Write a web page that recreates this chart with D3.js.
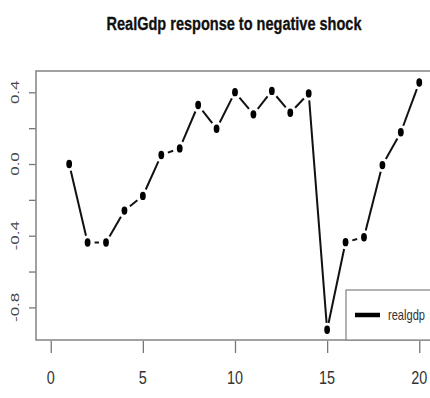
<!DOCTYPE html>
<html>
<head>
<meta charset="utf-8">
<script src="https://cdn.jsdelivr.net/npm/d3@7"></script>
<style>
  html, body { margin: 0; padding: 0; background: #fff; }
  svg { display: block; }
</style>
</head>
<body>
<svg id="chart" width="430" height="398"></svg>
<script>
// Impulse response of real GDP to a negative shock, horizons 1..20
const horizons = [1, 2, 3, 4, 5, 6, 7, 8, 9, 10, 11, 12, 13, 14, 15, 16, 17, 18, 19, 20];
const realgdp = [0.00, -0.438, -0.438, -0.26, -0.178, 0.05, 0.087, 0.329, 0.197, 0.401,
                 0.277, 0.408, 0.286, 0.394, -0.925, -0.436, -0.409, -0.006, 0.177, 0.455];
const xTicks = [0, 5, 10, 15, 20];
const yTicks = [0.4, 0.2, 0.0, -0.2, -0.4, -0.6, -0.8];
const yLabels = [0.4, 0.0, -0.4, -0.8];
const seriesName = "realgdp";
const title = "RealGdp response to negative shock";

const svg = d3.select("#chart");
const box = { left: 36, right: 434, top: 71, bottom: 340 };

const x = d3.scaleLinear().domain([-0.8, 20.8]).range([box.left, box.right]);
const y = d3.scaleLinear().domain([-0.982, 0.519]).range([box.bottom, box.top]);

const narrow = "'Liberation Sans Narrow', 'Arial Narrow', 'Liberation Sans', sans-serif";

// title
svg.append("text")
  .attr("x", 234).attr("y", 30)
  .attr("text-anchor", "middle")
  .attr("font-family", narrow)
  .attr("font-weight", "bold")
  .attr("font-size", 17.5)
  .attr("textLength", 255)
  .attr("lengthAdjust", "spacingAndGlyphs")
  .attr("fill", "#111")
  .attr("stroke", "#111").attr("stroke-width", 0.3)
  .text(title);

// x axis
const xAxis = svg.append("g")
  .attr("transform", `translate(0,${box.bottom + 1})`)
  .call(d3.axisBottom(x).tickValues(xTicks).tickSize(12).tickFormat(""));
xAxis.select(".domain").remove();
xAxis.selectAll(".tick line").attr("stroke", "#777").attr("stroke-width", 1.3);

svg.append("g").selectAll("text")
  .data(xTicks).join("text")
  .attr("transform", d => `translate(${x(d)},384) scale(0.8,1)`)
  .attr("text-anchor", "middle")
  .attr("font-family", narrow)
  .attr("font-size", 18)
  .attr("fill", "#333")
  .text(d => d);

// y axis
const yAxis = svg.append("g")
  .attr("transform", `translate(${box.left},0)`)
  .call(d3.axisLeft(y).tickValues(yTicks).tickSize(7).tickFormat(""));
yAxis.select(".domain").remove();
yAxis.selectAll(".tick line").attr("stroke", "#777").attr("stroke-width", 1.3);

svg.append("g").selectAll("text")
  .data(yLabels).join("text")
  .attr("transform", d => `translate(18.5,${y(d)}) scale(0.62,1) rotate(-90)`)
  .attr("text-anchor", "middle")
  .attr("font-family", "'Liberation Sans', Arial, sans-serif")
  .attr("font-size", 17)
  .attr("fill", "#444")
  .text(d => d3.format(".1f")(d).replace("−", "-"));

// plot frame
svg.append("rect")
  .attr("x", box.left).attr("y", box.top)
  .attr("width", box.right - box.left).attr("height", box.bottom - box.top)
  .attr("fill", "none").attr("stroke", "#8a8a8a").attr("stroke-width", 1.6);

// series: points joined by segments that stop short of each point
const pts = horizons.map((h, i) => [x(h), y(realgdp[i])]);
const gap = 7;
const segs = [];
for (let i = 0; i < pts.length - 1; i++) {
  const [x0, y0] = pts[i], [x1, y1] = pts[i + 1];
  const len = Math.hypot(x1 - x0, y1 - y0);
  if (len > 2 * gap) {
    const ux = (x1 - x0) / len, uy = (y1 - y0) / len;
    segs.push([x0 + ux * gap, y0 + uy * gap, x1 - ux * gap, y1 - uy * gap]);
  }
}
svg.append("g").selectAll("line")
  .data(segs).join("line")
  .attr("x1", d => d[0]).attr("y1", d => d[1])
  .attr("x2", d => d[2]).attr("y2", d => d[3])
  .attr("stroke", "#111").attr("stroke-width", 2);

svg.append("g").selectAll("ellipse")
  .data(pts).join("ellipse")
  .attr("cx", d => d[0]).attr("cy", d => d[1])
  .attr("rx", 2.9).attr("ry", 4.2)
  .attr("fill", "#000");

// legend
const lg = svg.append("g");
lg.append("rect")
  .attr("x", 346).attr("y", 290)
  .attr("width", 100).attr("height", box.bottom - 290)
  .attr("fill", "#fff").attr("stroke", "#8a8a8a").attr("stroke-width", 1.3);
lg.append("line")
  .attr("x1", 355).attr("x2", 380).attr("y1", 315).attr("y2", 315)
  .attr("stroke", "#000").attr("stroke-width", 4.5);
lg.append("text")
  .attr("x", 388).attr("y", 320)
  .attr("font-family", narrow)
  .attr("font-size", 15)
  .attr("textLength", 37)
  .attr("lengthAdjust", "spacingAndGlyphs")
  .attr("fill", "#333")
  .text(seriesName);
</script>
</body>
</html>
